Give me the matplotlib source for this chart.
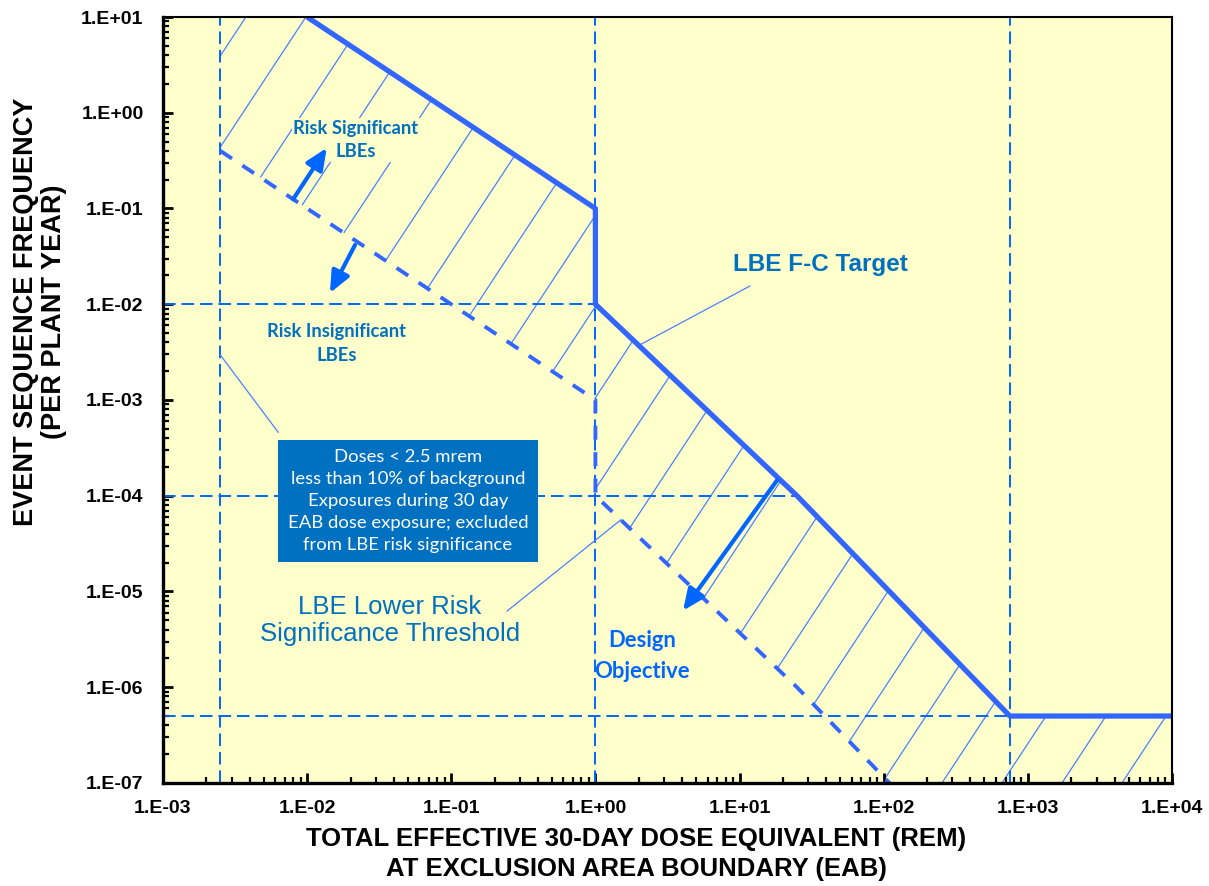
import numpy as np
import matplotlib.pyplot as plt
from matplotlib.collections import LineCollection
from matplotlib.patches import Polygon
from matplotlib.ticker import LogLocator, FuncFormatter, NullFormatter

plt.rcParams['font.family'] = ['Liberation Sans', 'DejaVu Sans']

# LBE frequency-consequence target (dose in rem, frequency per plant-year)
fc_dose = [1e-2, 1.0, 1.0, 25.0, 750.0, 1e4]
fc_freq = [1e1, 1e-1, 1e-2, 1e-4, 5e-7, 5e-7]

# lower risk significance threshold, two decades under the target
low_dose = [2.5e-3, 1.0, 1.0, 25.0, 750.0]
low_freq = [4e-1, 1e-3, 1e-4, 1e-6, 5e-9]

# dashed reference lines
dose_refs = [2.5e-3, 1.0, 750.0]
freq_refs = [1e-2, 1e-4, 5e-7]

# decade ticks
dose_ticks = [1e-3, 1e-2, 1e-1, 1e0, 1e1, 1e2, 1e3, 1e4]
freq_ticks = [1e-7, 1e-6, 1e-5, 1e-4, 1e-3, 1e-2, 1e-1, 1e0, 1e1]

BG = '#FFFFCC'
LINE = '#3366FF'
REF = '#0066FF'
HATCH = '#4A80FF'
TXT = '#0070C0'
CAL = ['Lato', 'DejaVu Sans']

fig = plt.figure(figsize=(12.09, 8.86), dpi=100)
left, right, bottom, top = 0.1348, 0.9694, 0.1163, 0.9808
ax = fig.add_axes([left, bottom, right - left, top - bottom])
ax.set_xscale('log')
ax.set_yscale('log')
ax.set_xlim(1e-3, 1e4)
ax.set_ylim(1e-7, 1e1)
ax.set_facecolor(BG)

# reference grid
dash = (0, (6.5, 3))
for d in dose_refs:
    ax.axvline(d, color=REF, lw=1.4, ls=dash, zorder=2)
for f in freq_refs:
    end = fc_dose[fc_freq.index(f)]
    ax.plot([1e-3, end], [f, f], color=REF, lw=1.4, ls=dash, zorder=2)

# hatched band between the threshold and the target
band = [(low_dose[0], 1e1)] + list(zip(fc_dose, fc_freq)) + [(1e4, 5e-9)] \
    + list(zip(low_dose[::-1], low_freq[::-1]))
clip = Polygon(band, closed=True, transform=ax.transData)

W = fig.get_figwidth() * fig.dpi * (right - left)
H = fig.get_figheight() * fig.dpi * (top - bottom)
slope = 1.52
step = 60
segs = []
for x0 in np.arange(-361 - 10 * step, W + step, step):
    segs.append([(x0 / W, 0.0), ((x0 + H / slope) / W, 1.0)])
hatch = LineCollection(segs, colors=HATCH, linewidths=0.9, transform=ax.transAxes, zorder=1.5)
ax.add_collection(hatch)
hatch.set_clip_path(clip)

# main curves
ax.plot(fc_dose, fc_freq, color=LINE, lw=3.8, zorder=4, solid_capstyle='butt')
ax.plot(low_dose, low_freq, color=LINE, lw=2.8, ls=(0, (3.6, 3.2)), zorder=4)

# leader lines
ax.plot([11.8, 2.0], [0.0155, 1e-2 * 2.0 ** -1.43], color=HATCH, lw=0.9, zorder=3)
ax.plot([0.244, 1.5], [6.25e-6, 1e-4 * 1.5 ** -1.43], color=HATCH, lw=0.9, zorder=3)
ax.plot([2.5e-3, 6.3e-3], [2.95e-3, 4.6e-4], color=HATCH, lw=0.9, zorder=3)

# arrows
arw = dict(arrowstyle='-|>,head_length=0.5,head_width=0.22', color=REF, lw=3,
           mutation_scale=26, shrinkA=0, shrinkB=0)
ax.annotate('', xy=(0.0137, 0.43), xytext=(0.0080, 0.125), arrowprops=arw, zorder=5)
ax.annotate('', xy=(0.0144, 0.0131), xytext=(0.0215, 0.0416), arrowprops=arw, zorder=5)
ax.annotate('', xy=(4.05, 6.3e-6), xytext=(18.2, 1.45e-4), arrowprops=arw, zorder=5)

# annotations
nobox = dict(facecolor=BG, edgecolor='none', pad=1)
ax.text(0.0218, 0.52, 'Risk Significant\nLBEs', color=TXT, family=CAL, weight='bold',
        fontsize=13.2, ha='center', va='center', linespacing=1.45, bbox=nobox, zorder=3)
ax.text(0.0161, 3.9e-3, 'Risk Insignificant\nLBEs', color=TXT, family=CAL, weight='bold',
        fontsize=13.2, ha='center', va='center', linespacing=1.45, bbox=nobox, zorder=3)
ax.text(36.1, 0.0257, 'LBE F-C Target', color=TXT, weight='bold', fontsize=17.5,
        ha='center', va='center', zorder=3)
ax.text(0.0376, 5.0e-6, 'LBE Lower Risk\nSignificance Threshold', color=TXT, fontsize=18.5,
        ha='center', va='center', linespacing=1.15, zorder=3)
ax.text(2.1, 2.1e-6, 'Design\nObjective', color=REF, family=CAL, weight='bold',
        fontsize=15.8, ha='center', va='center', linespacing=1.6, zorder=3)
ax.text(0.0501, 8.8e-5,
        'Doses < 2.5 mrem\nless than 10% of background\nExposures during 30 day\n'
        'EAB dose exposure; excluded\nfrom LBE risk significance',
        color='white', family=CAL, fontsize=13.3, ha='center', va='center', linespacing=1.45,
        bbox=dict(boxstyle='square,pad=0.5', facecolor='#0070C0', edgecolor='none'), zorder=6)

# axes styling
for side, w in [('left', 2.4), ('bottom', 2.4), ('top', 1.5), ('right', 1.5)]:
    ax.spines[side].set_linewidth(w)
    ax.spines[side].set_zorder(7)

fmt = FuncFormatter(lambda v, _: '1.E{:+03d}'.format(int(round(np.log10(v)))))
ax.set_xticks(dose_ticks)
ax.set_yticks(freq_ticks)
for axis in (ax.xaxis, ax.yaxis):
    axis.set_minor_locator(LogLocator(base=10, subs=np.arange(2, 10), numticks=20))
    axis.set_major_formatter(fmt)
    axis.set_minor_formatter(NullFormatter())
ax.tick_params(which='major', direction='in', length=7, width=2, labelsize=14)
ax.tick_params(axis='x', which='major', pad=12)
ax.tick_params(axis='y', which='major', pad=14)
ax.tick_params(which='minor', direction='in', length=4, width=1.6)
for lab in ax.get_xticklabels() + ax.get_yticklabels():
    lab.set_fontweight('bold')

ax.set_xlabel('TOTAL EFFECTIVE 30-DAY DOSE EQUIVALENT (REM)\nAT EXCLUSION AREA BOUNDARY (EAB)',
              fontsize=18.5, fontweight='bold', linespacing=1.32)
ax.xaxis.set_label_coords(0.469, -0.058)
ax.set_ylabel('EVENT SEQUENCE FREQUENCY\n(PER PLANT YEAR)', fontsize=19.5, fontweight='bold',
              linespacing=1.1)
ax.yaxis.set_label_coords(-0.095, 0.615)

fig.savefig('out.png', dpi=100)
